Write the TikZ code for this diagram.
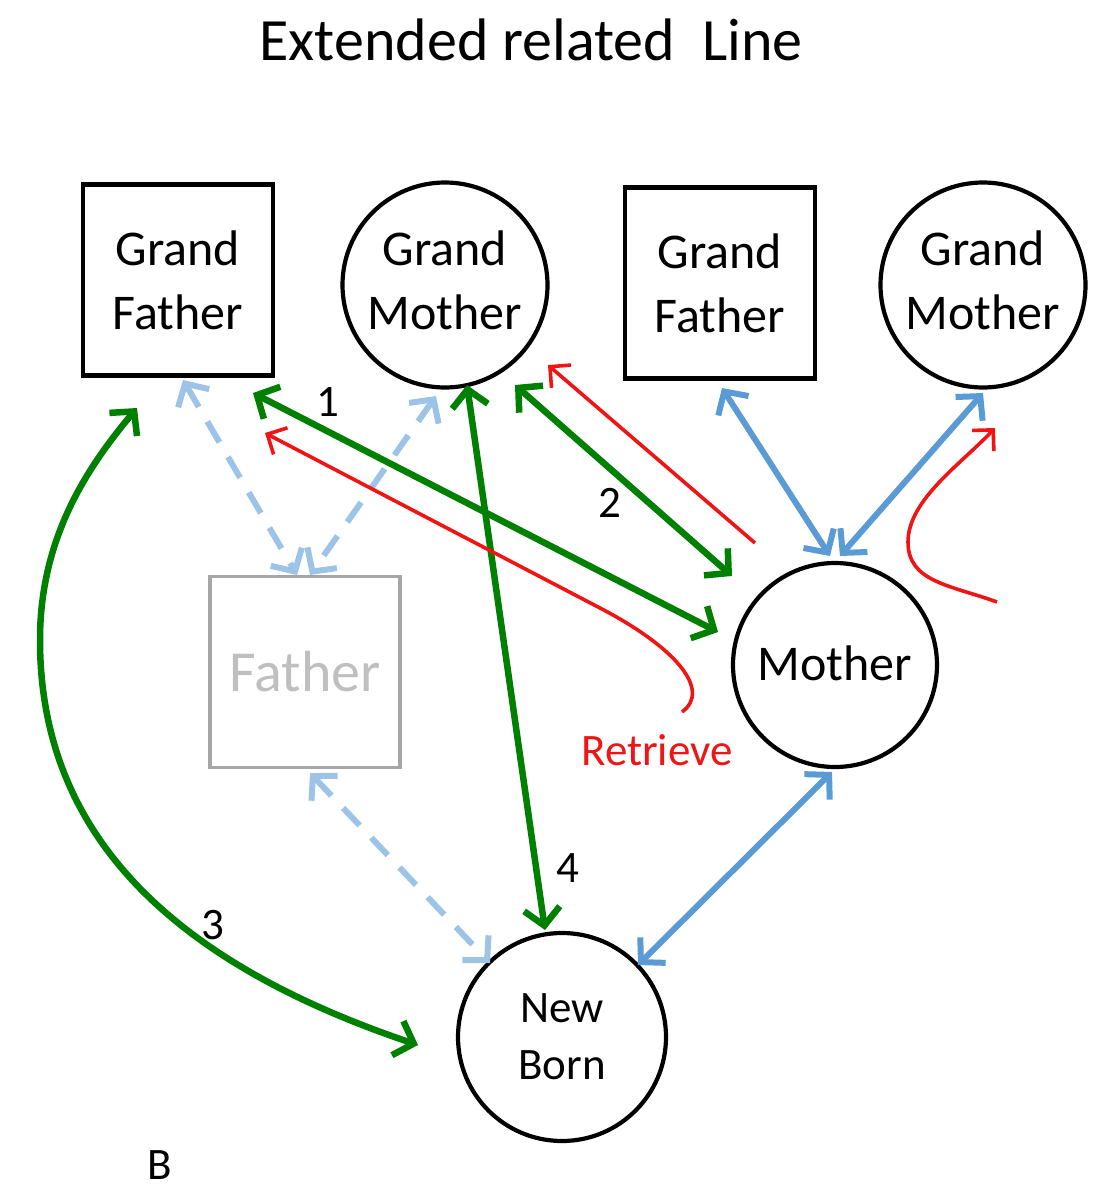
\documentclass[tikz,border=0pt]{standalone}
\usepackage{fontspec}
\setmainfont{Carlito}
\usetikzlibrary{arrows.meta,calc}

\definecolor{kin}{RGB}{0,128,0}
\definecolor{bond}{RGB}{91,155,213}
\definecolor{weakbond}{RGB}{157,195,230}
\definecolor{retr}{RGB}{240,20,20}
\definecolor{ghostline}{RGB}{166,166,166}
\definecolor{ghosttext}{RGB}{191,191,191}

% two-line name, lifted a little inside its circle
\newcommand{\liftedname}[2]{\raisebox{8pt}{\begin{tabular}{@{}c@{}}#1\\#2\end{tabular}}}

\tikzset{
  person/.style={draw=black, line width=4.2pt, inner sep=0pt, align=center,
    font=\fontsize{50}{64}\selectfont},
  male/.style={person, rectangle, minimum width=190pt, minimum height=191pt},
  female/.style={person, circle, minimum size=205pt},
  ghost/.style={male, draw=ghostline, text=ghosttext, line width=3.5pt,
    font=\fontsize{58}{70}\selectfont},
  kinlink/.style={draw=kin, line width=6.5pt, >={Straight Barb[length=17pt,width=36pt]}},
  bondlink/.style={draw=bond, line width=6pt, >={Straight Barb[length=17pt,width=36pt]}},
  weaklink/.style={draw=weakbond, line width=6pt, dash pattern=on 24pt off 17pt,
    >={Straight Barb[length=17pt,width=36pt]}},
  retrlink/.style={draw=retr, line width=3.6pt, >={Straight Barb[length=15pt,width=30pt]}},
  tag/.style={font=\fontsize{45}{54}\selectfont, inner sep=0pt},
}

\begin{document}
\begin{tikzpicture}[x=1pt, y=1pt]
\useasboundingbox (0,0) rectangle (1096,-1191);

% title
\node[font=\fontsize{60}{72}\selectfont, inner sep=0pt] (title) at (531,-40) {Extended related\ \ Line};

% family members
\node[male]   (gf1) at (178,-280) {Grand\\Father};
\node[female] (gm1) at (445,-285) {\liftedname{Grand}{Mother}};
\node[male]   (gf2) at (720,-283) {Grand\\Father};
\node[female] (gm2) at (983,-285) {\liftedname{Grand}{Mother}};
\node[ghost]  (father) at (305,-672) {Father};
\node[female, minimum size=204pt] (mother) at (835,-665) {\raisebox{4pt}{Mother}};
\node[female, minimum size=208pt, font=\fontsize{45}{57}\selectfont] (newborn) at (562,-1037) {New\\Born};

% free ends of the retrieve curves
\coordinate (ra) at (755,-543);
\coordinate (rb) at (682,-712);
\coordinate (rc) at (997,-602);

% weak (dashed) links through the father
\draw[weaklink, <->] ($(gf1)+(5,-100)$) -- ($(father)+(-8,97)$);
\draw[weaklink, <->] ($(gm1)+(-9,-111)$) -- ($(father)+(5,97)$);
\draw[weaklink, <->] ($(father)+(5,-101)$) -- ($(newborn)+(-72,74)$);

% maternal bonds
\draw[bondlink, <->] ($(gf2)+(2,-105)$) -- ($(mother)+(-5,109)$);
\draw[bondlink, <->] ($(gm2)+(0,-108)$) -- ($(mother)+(5,109)$);
\draw[bondlink, <->] ($(mother)+(-3,-107)$) -- ($(newborn)+(76,72)$);

% extended kin links
\draw[kinlink, <->] ($(gf1)+(75,-113)$) -- ($(mother)+(-117,33)$);
\draw[kinlink, <->] ($(gm1)+(70,-100)$) -- ($(mother)+(-103,89)$);
\draw[kinlink, <->] ($(gm1)+(22,-100)$) -- ($(newborn)+(-17,107)$);
\draw[kinlink, <->] ($(gf1)+(-41,-128)$) .. controls (85,-470) and (40,-540) .. (40,-640)
      .. controls (40,-840) and (180,-965) .. ($(newborn)+(-144,-8)$);

% retrieve curves
\draw[retrlink, ->] (ra) -- ($(gm1)+(103,-80)$);
\draw[retrlink, ->] (rb) .. controls (712,-690) and (675,-647) .. (600,-608) -- ($(gf1)+(87,-153)$);
\draw[retrlink, ->] (rc) .. controls (950,-585) and (908,-582) .. (908,-542)
      .. controls (908,-500) and (961,-464) .. ($(gm2)+(12,-143)$);

% labels
\node[tag] (l1) at (328,-402) {1};
\node[tag] (l2) at (610,-503) {2};
\node[tag] (l3) at (213,-925) {3};
\node[tag] (l4) at (568,-868) {4};
\node[tag, text=retr] (retrieve) at (657,-750) {Retrieve};
\node[tag] (panel) at (160,-1165) {B};
\end{tikzpicture}
\end{document}
